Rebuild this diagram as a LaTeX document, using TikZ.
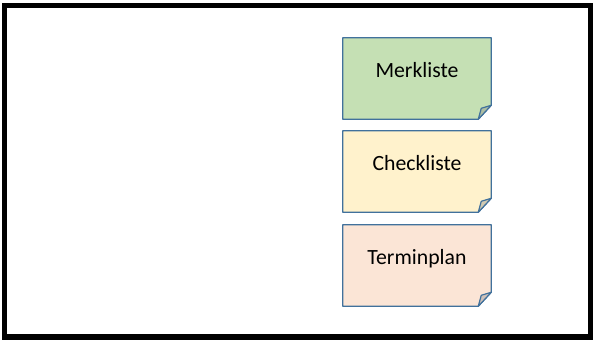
\documentclass[tikz,border=0pt]{standalone}
\usepackage{fontspec}
\setmainfont{Carlito}
\usetikzlibrary{calc,backgrounds}

\definecolor{notegreen}{HTML}{C5E0B4}
\definecolor{noteyellow}{HTML}{FFF2CC}
\definecolor{notepeach}{HTML}{FBE5D6}
\definecolor{noteline}{HTML}{41719C}

\tikzset{
  notebox/.style={minimum width=111pt, inner xsep=0pt, inner ysep=0pt,
    text height=29.25pt, text depth=31.5pt, font=\fontsize{16.3}{19}\selectfont},
  noteedge/.style={draw=noteline, line width=0.9pt, line join=round}
}

\begin{document}
\begin{tikzpicture}[x=0.75pt, y=-0.75pt]

 \useasboundingbox (0,0) rectangle (593,340);

 % outer frame
 \draw[line width=3.8pt] (4.5,5.5) rectangle (590.5,337);

 % the three notes
 \node[notebox] (merk) at (417,78.5) {Merkliste};
 \node[notebox] (check) at (417,171.5) {Checkliste};
 \node[notebox] (termin) at (417,265.5) {Terminplan};

 \begin{scope}[on background layer]
 \draw[noteedge, fill=notegreen] (merk.south west) -- (merk.north west) -- (merk.north east)
   -- ($(merk.south east)+(0,-14)$) -- ($(merk.south east)+(-13,0)$) -- cycle;
 \draw[noteedge, fill=notegreen!65!gray] ($(merk.south east)+(-13,0)$) -- ($(merk.south east)+(-10,-11)$)
   -- ($(merk.south east)+(0,-14)$) -- cycle;

 \draw[noteedge, fill=noteyellow] (check.south west) -- (check.north west) -- (check.north east)
   -- ($(check.south east)+(0,-14)$) -- ($(check.south east)+(-13,0)$) -- cycle;
 \draw[noteedge, fill=noteyellow!65!gray] ($(check.south east)+(-13,0)$) -- ($(check.south east)+(-10,-11)$)
   -- ($(check.south east)+(0,-14)$) -- cycle;

 \draw[noteedge, fill=notepeach] (termin.south west) -- (termin.north west) -- (termin.north east)
   -- ($(termin.south east)+(0,-14)$) -- ($(termin.south east)+(-13,0)$) -- cycle;
 \draw[noteedge, fill=notepeach!65!gray] ($(termin.south east)+(-13,0)$) -- ($(termin.south east)+(-10,-11)$)
   -- ($(termin.south east)+(0,-14)$) -- cycle;
 \end{scope}

\end{tikzpicture}
\end{document}
